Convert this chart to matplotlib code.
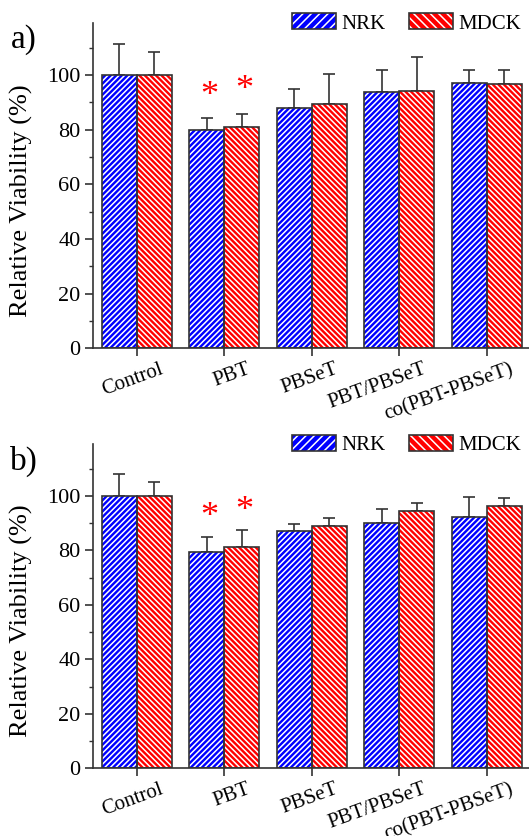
import matplotlib
matplotlib.use("Agg")
import matplotlib.pyplot as plt
import matplotlib.transforms as mtransforms
from matplotlib.patches import Patch
import numpy as np

plt.rcParams['font.family'] = ['Liberation Serif', 'DejaVu Serif']
plt.rcParams['hatch.linewidth'] = 1.1

categories = ["Control", "PBT", "PBSeT", "PBT/PBSeT", "co(PBT-PBSeT)"]
series = ["NRK", "MDCK"]

# panel a
nrk_a = [100, 80.0, 87.9, 93.7, 97.0]
nrk_a_err = [11.5, 4.2, 7.0, 8.1, 4.7]
mdck_a = [100, 81.1, 89.5, 94.3, 96.7]
mdck_a_err = [8.5, 4.5, 10.9, 12.4, 5.0]
# panel b
nrk_b = [100, 79.3, 87.0, 90.1, 92.2]
nrk_b_err = [8.0, 5.6, 2.7, 5.0, 7.5]
mdck_b = [100, 81.3, 89.0, 94.4, 96.3]
mdck_b_err = [5.1, 6.0, 2.7, 2.8, 3.0]

# significance markers (category index, y value of marker centre)
star_cat = 1
star_y = {"NRK": 95.3, "MDCK": 97.3}

yticks = [0, 20, 40, 60, 80, 100]

W, H = 529, 836
fig = plt.figure(figsize=(W / 100, H / 100), dpi=100)

blue = "#0000FF"
red = "#FF0000"
edge = "#333333"
bw = 0.4


def panel(rect, nrk, nrk_err, mdck, mdck_err):
    ax = fig.add_axes(rect)
    x = np.arange(1, len(categories) + 1)
    for vals, errs, col, hat, off in [(nrk, nrk_err, blue, '//////', -bw / 2),
                                      (mdck, mdck_err, red, '\\\\\\\\\\\\', bw / 2)]:
        ax.errorbar(x + off, vals, yerr=[np.zeros(len(vals)), errs], fmt='none',
                    ecolor=edge, elinewidth=1.2, capsize=4.2, capthick=1.2, zorder=1)
        ax.bar(x + off, vals, width=bw, color=col, edgecolor='white', hatch=hat,
               linewidth=0, zorder=2)
        ax.bar(x + off, vals, width=bw, fill=False, edgecolor=edge, linewidth=1.2, zorder=3)
    # stars
    fs = 26
    for s, off in [("NRK", -bw / 2), ("MDCK", bw / 2)]:
        ax.annotate("*", xy=(star_cat + 1 + off, star_y[s]), xytext=(2, -0.47 * fs),
                    textcoords='offset points', color=red, fontsize=fs,
                    ha='center', va='baseline')
    ax.set_xlim(0.5, 5.5)
    ax.set_ylim(0, 119)
    ax.set_yticks(yticks)
    ax.set_yticks([10, 30, 50, 70, 90, 110], minor=True)
    ax.set_xticks(x)
    ax.set_xticklabels([])
    trans = mtransforms.blended_transform_factory(ax.transData, ax.transAxes)
    for xi, cat in zip(x, categories):
        ax.text(xi + 0.26, -0.035, cat, transform=trans, fontsize=15, rotation=20,
                ha='right', va='top', rotation_mode='anchor')
    ax.tick_params(axis='y', which='major', length=6, width=1.2, labelsize=16, color=edge,
                   direction='out', pad=3)
    ax.tick_params(axis='y', which='minor', length=3, width=1.0, color=edge, direction='out')
    ax.tick_params(axis='x', which='major', length=6, width=1.2, color=edge, direction='out')
    ax.spines['top'].set_visible(False)
    ax.spines['right'].set_visible(False)
    for sp in ['left', 'bottom']:
        ax.spines[sp].set_color(edge)
        ax.spines[sp].set_linewidth(1.2)
    ax.set_ylabel("Relative Viability (%)", fontsize=19)
    ax.yaxis.set_label_coords(-0.137, 0.455)
    return ax


ax1 = panel([93 / W, 1 - 348.3 / H, 437.5 / W, (348.3 - 23) / H],
            nrk_a, nrk_a_err, mdck_a, mdck_a_err)
ax2 = panel([93 / W, 1 - 768.3 / H, 437.5 / W, (768.3 - 444) / H],
            nrk_b, nrk_b_err, mdck_b, mdck_b_err)

fig.text(24 / W, 1 - 40 / H, "a)", fontsize=24, ha='center', va='center')
fig.text(24 / W, 1 - 461 / H, "b)", fontsize=24, ha='center', va='center')


def handles():
    hb = (Patch(facecolor=blue, edgecolor='white', hatch='////', linewidth=0),
          Patch(fill=False, edgecolor=edge, linewidth=1.2))
    hr = (Patch(facecolor=red, edgecolor='white', hatch='\\\\\\\\', linewidth=0),
          Patch(fill=False, edgecolor=edge, linewidth=1.2))
    return [hb, hr]


for ytop in [23.5, 445]:
    fig.legend(handles(), series, loc='center right', bbox_to_anchor=(521 / W, 1 - ytop / H),
               ncol=2, frameon=False, fontsize=15, handlelength=2.1, handleheight=0.8,
               handletextpad=0.25, columnspacing=1.15, borderaxespad=0, borderpad=0)

fig.savefig("out.png", dpi=100)
